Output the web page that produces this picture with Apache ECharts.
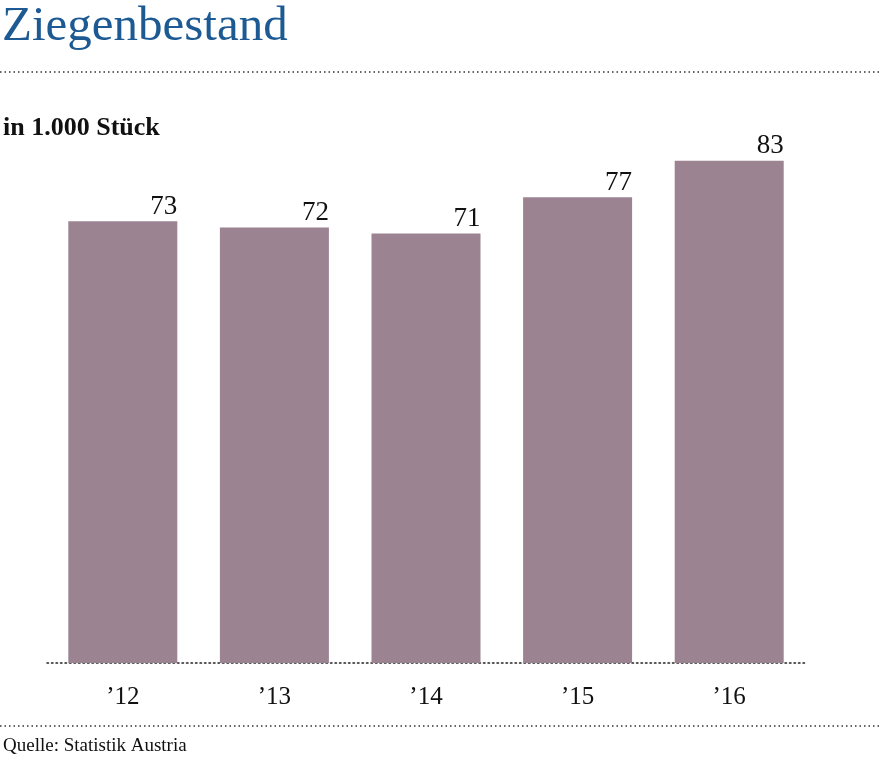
<!DOCTYPE html>
<html><head><meta charset="utf-8">
<script src="https://cdn.jsdelivr.net/npm/echarts@6/dist/echarts.min.js"></script>
<style>html,body{margin:0;padding:0;background:#fff}#c{width:879px;height:767px}</style>
</head><body><div id="c"></div>
<script>
const categories = ['’12', '’13', '’14', '’15', '’16'];
const values = [73, 72, 71, 77, 83];
const titleText = 'Ziegenbestand';
const unitText = 'in 1.000 Stück';
const sourceText = 'Quelle: Statistik Austria';

const serif = '"Liberation Serif", "DejaVu Serif", serif';
const chart = echarts.init(document.getElementById('c'));
chart.setOption({
  animation: false,
  grid: { left: 47, right: 74, top: 58, bottom: 104 },
  xAxis: {
    type: 'category', data: categories,
    axisTick: { show: false },
    axisLine: { show: true, lineStyle: { color: '#222', width: 1.5, type: [1.5, 3] } },
    axisLabel: { color: '#111', fontFamily: serif, fontSize: 25, margin: 22 }
  },
  yAxis: { type: 'value', min: 0, max: 100, show: false, splitLine: { show: false } },
  series: [{
    type: 'bar', data: values, barWidth: 109,
    itemStyle: { color: '#9b8391' },
    z: 1,
    label: {
      show: true, position: [109, -1], align: 'right', verticalAlign: 'bottom',
      color: '#111', fontFamily: serif, fontSize: 27
    }
  }],
  graphic: [
    { type: 'text', left: 2, top: 3, style: { text: titleText, fill: '#1d5a93', font: '49px ' + serif } },
    { type: 'line', shape: { x1: 0, y1: 72, x2: 879, y2: 72 }, style: { stroke: '#333', lineWidth: 1.5, lineDash: [1.5, 3] } },
    { type: 'text', left: 3, top: 115, style: { text: unitText, fill: '#111', font: 'bold 26px ' + serif } },
    { type: 'line', shape: { x1: 0, y1: 726, x2: 879, y2: 726 }, style: { stroke: '#333', lineWidth: 1.5, lineDash: [1.5, 3] } },
    { type: 'text', left: 3, top: 737, style: { text: sourceText, fill: '#111', font: '19px ' + serif } }
  ]
});
</script></body></html>
